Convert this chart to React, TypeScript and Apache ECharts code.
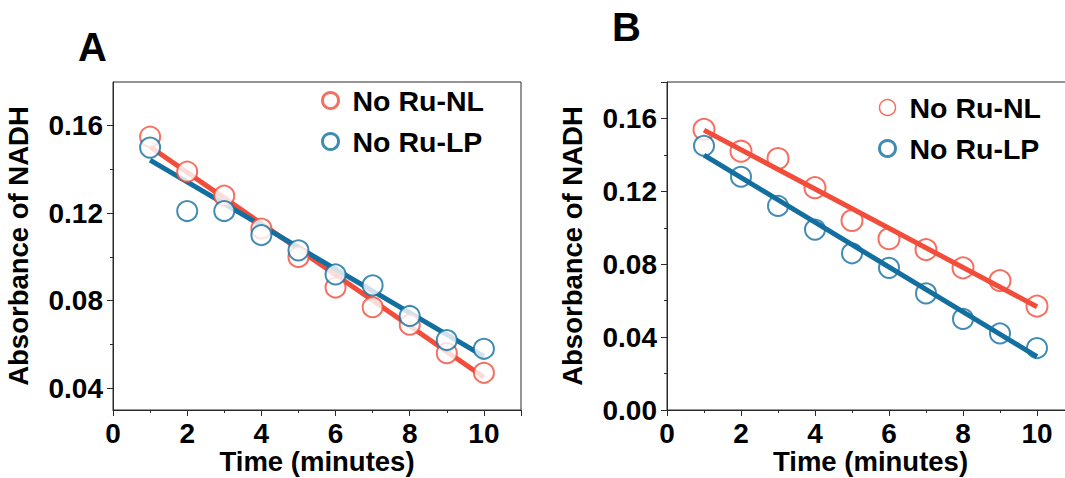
import React, { useEffect, useRef } from "react";
import * as echarts from "echarts";

const timeMinutes = [1, 2, 3, 4, 5, 6, 7, 8, 9, 10];
const aNoRuNL = [0.155, 0.139, 0.128, 0.113, 0.1, 0.086, 0.077, 0.069, 0.056, 0.047];
const aNoRuLP = [0.15, 0.121, 0.121, 0.11, 0.103, 0.092, 0.087, 0.073, 0.062, 0.058];
const bNoRuNL = [0.154, 0.142, 0.138, 0.122, 0.104, 0.094, 0.088, 0.078, 0.071, 0.057];
const bNoRuLP = [0.145, 0.128, 0.112, 0.099, 0.086, 0.078, 0.064, 0.05, 0.042, 0.034];
const fitX = [1, 10];
const aFitNL = [0.1504, 0.045];
const aFitLP = [0.1443, 0.0545];
const bFitNL = [0.1536, 0.0567];
const bFitLP = [0.1399, 0.0293];
const aYMajor = [0.04, 0.08, 0.12, 0.16];
const aYMinor = [0.06, 0.1, 0.14];
const seriesNames = ["No Ru-NL", "No Ru-LP"];

const RED = "#F24C3A";
const BLUE = "#136FA0";
const FONT = "'Liberation Sans', Arial, sans-serif";
const AX = "#2a2a2a";

const zip = (xs: number[], ys: number[]) => xs.map((x, i) => [x, ys[i]]);

const labelStyle = { color: "#000", fontSize: 28, fontWeight: "bold" as const, fontFamily: FONT };

function xAxisFor(grid: number) {
  return {
    type: "value",
    gridIndex: grid,
    min: 0,
    max: 11,
    interval: 2,
    axisLine: { show: true, lineStyle: { color: AX, width: 1 } },
    axisTick: { show: true, length: 6, lineStyle: { color: AX } },
    minorTick: { show: true, splitNumber: 2, length: 3, lineStyle: { color: AX } },
    splitLine: { show: false },
    axisLabel: {
      ...labelStyle,
      margin: 9,
      formatter: (v: number) => (v % 2 === 0 && v <= 10 ? String(v) : ""),
    },
    name: "Time (minutes)",
    nameLocation: "middle",
    nameMoveOverlap: false,
    nameGap: 37,
    nameTextStyle: { ...labelStyle, fontSize: 27.5, lineHeight: 28 },
  };
}

function legendFor(left: number, top: number, redBorder: number) {
  return {
    left,
    top,
    orient: "vertical",
    itemWidth: 34,
    itemHeight: 16,
    itemGap: 12,
    selectedMode: false,
    textStyle: { ...labelStyle, fontSize: 28.5, lineHeight: 27 },
    data: [
      { name: seriesNames[0], icon: "circle", itemStyle: { color: "#fff", borderColor: RED, borderWidth: redBorder } },
      { name: seriesNames[1], icon: "circle", itemStyle: { color: "#fff", borderColor: BLUE, borderWidth: 3 } },
    ],
  };
}

export default function App() {
  const ref = useRef<HTMLDivElement>(null);
  useEffect(() => {
    if (!ref.current) return;
    const chart = echarts.init(ref.current, null, { renderer: "svg" });
    const yName = {
      name: "Absorbance of NADH",
      nameLocation: "middle",
      nameGap: 81,
      nameTextStyle: { ...labelStyle, fontSize: 27.5 },
    };
    chart.setOption({
      animation: false,
      backgroundColor: "#fff",
      grid: [
        { left: 113, top: 82, width: 408, height: 328, show: true, borderColor: AX, borderWidth: 1, containLabel: false, outerBoundsMode: "none" },
        { left: 667, top: 82, width: 407, height: 328, show: true, borderColor: AX, borderWidth: 1, containLabel: false, outerBoundsMode: "none" },
      ],
      xAxis: [xAxisFor(0), xAxisFor(1)],
      yAxis: [
        {
          type: "value",
          gridIndex: 0,
          min: 0.03,
          max: 0.18,
          axisLine: { show: true, lineStyle: { color: AX } },
          axisTick: { show: true, length: 6, customValues: aYMajor, lineStyle: { color: AX } },
          axisLabel: { ...labelStyle, margin: 10, customValues: aYMajor, formatter: (v: number) => v.toFixed(2) },
          splitLine: { show: false },
          ...yName,
        },
        {
          type: "value",
          gridIndex: 0,
          min: 0.03,
          max: 0.18,
          position: "left",
          axisLine: { show: false },
          axisTick: { show: true, length: 3, customValues: aYMinor, lineStyle: { color: AX } },
          axisLabel: { show: false },
          splitLine: { show: false },
        },
        {
          type: "value",
          gridIndex: 1,
          min: 0,
          max: 0.18,
          interval: 0.04,
          axisLine: { show: true, lineStyle: { color: AX } },
          axisTick: { show: true, length: 6, lineStyle: { color: AX } },
          minorTick: { show: true, splitNumber: 2, length: 3, lineStyle: { color: AX } },
          axisLabel: {
            ...labelStyle,
            margin: 10,
            showMaxLabel: false,
            formatter: (v: number) => (v > 0.17 ? "" : v.toFixed(2)),
          },
          splitLine: { show: false },
          ...yName,
        },
      ],
      legend: [legendFor(316, 81, 3), legendFor(873, 88, 1.5)],
      graphic: [
        { type: "text", left: 78, top: 27, style: { text: "A", fontSize: 40, fontWeight: "bold", fontFamily: FONT, fill: "#000" } },
        { type: "text", left: 612, top: 7, style: { text: "B", fontSize: 40, fontWeight: "bold", fontFamily: FONT, fill: "#000" } },
      ],
      series: [
        { name: "A fit NL", type: "line", xAxisIndex: 0, yAxisIndex: 0, data: zip(fitX, aFitNL), showSymbol: false, lineStyle: { color: RED, width: 5 }, z: 2 },
        { name: "A fit LP", type: "line", xAxisIndex: 0, yAxisIndex: 0, data: zip(fitX, aFitLP), showSymbol: false, lineStyle: { color: BLUE, width: 5 }, z: 2 },
        { name: seriesNames[0], type: "scatter", xAxisIndex: 0, yAxisIndex: 0, data: zip(timeMinutes, aNoRuNL), symbol: "emptyCircle", symbolSize: 20, itemStyle: { color: RED, borderWidth: 3.2 }, z: 3 },
        { name: seriesNames[1], type: "scatter", xAxisIndex: 0, yAxisIndex: 0, data: zip(timeMinutes, aNoRuLP), symbol: "emptyCircle", symbolSize: 20, itemStyle: { color: BLUE, borderWidth: 3.2 }, z: 4 },
        { name: seriesNames[0], type: "scatter", xAxisIndex: 1, yAxisIndex: 2, data: zip(timeMinutes, bNoRuNL), symbol: "emptyCircle", symbolSize: 21, itemStyle: { color: RED, borderWidth: 2.2 }, z: 2 },
        { name: seriesNames[1], type: "scatter", xAxisIndex: 1, yAxisIndex: 2, data: zip(timeMinutes, bNoRuLP), symbol: "emptyCircle", symbolSize: 20, itemStyle: { color: BLUE, borderWidth: 3.2 }, z: 2 },
        { name: "B fit NL", type: "line", xAxisIndex: 1, yAxisIndex: 2, data: zip(fitX, bFitNL), showSymbol: false, lineStyle: { color: RED, width: 5 }, z: 3 },
        { name: "B fit LP", type: "line", xAxisIndex: 1, yAxisIndex: 2, data: zip(fitX, bFitLP), showSymbol: false, lineStyle: { color: BLUE, width: 5 }, z: 3 },
      ],
    });
    return () => chart.dispose();
  }, []);
  return (
    <div
      ref={ref}
      style={{ position: "absolute", left: 0, top: 0, width: 1065, height: 478, background: "#fff" }}
    />
  );
}
